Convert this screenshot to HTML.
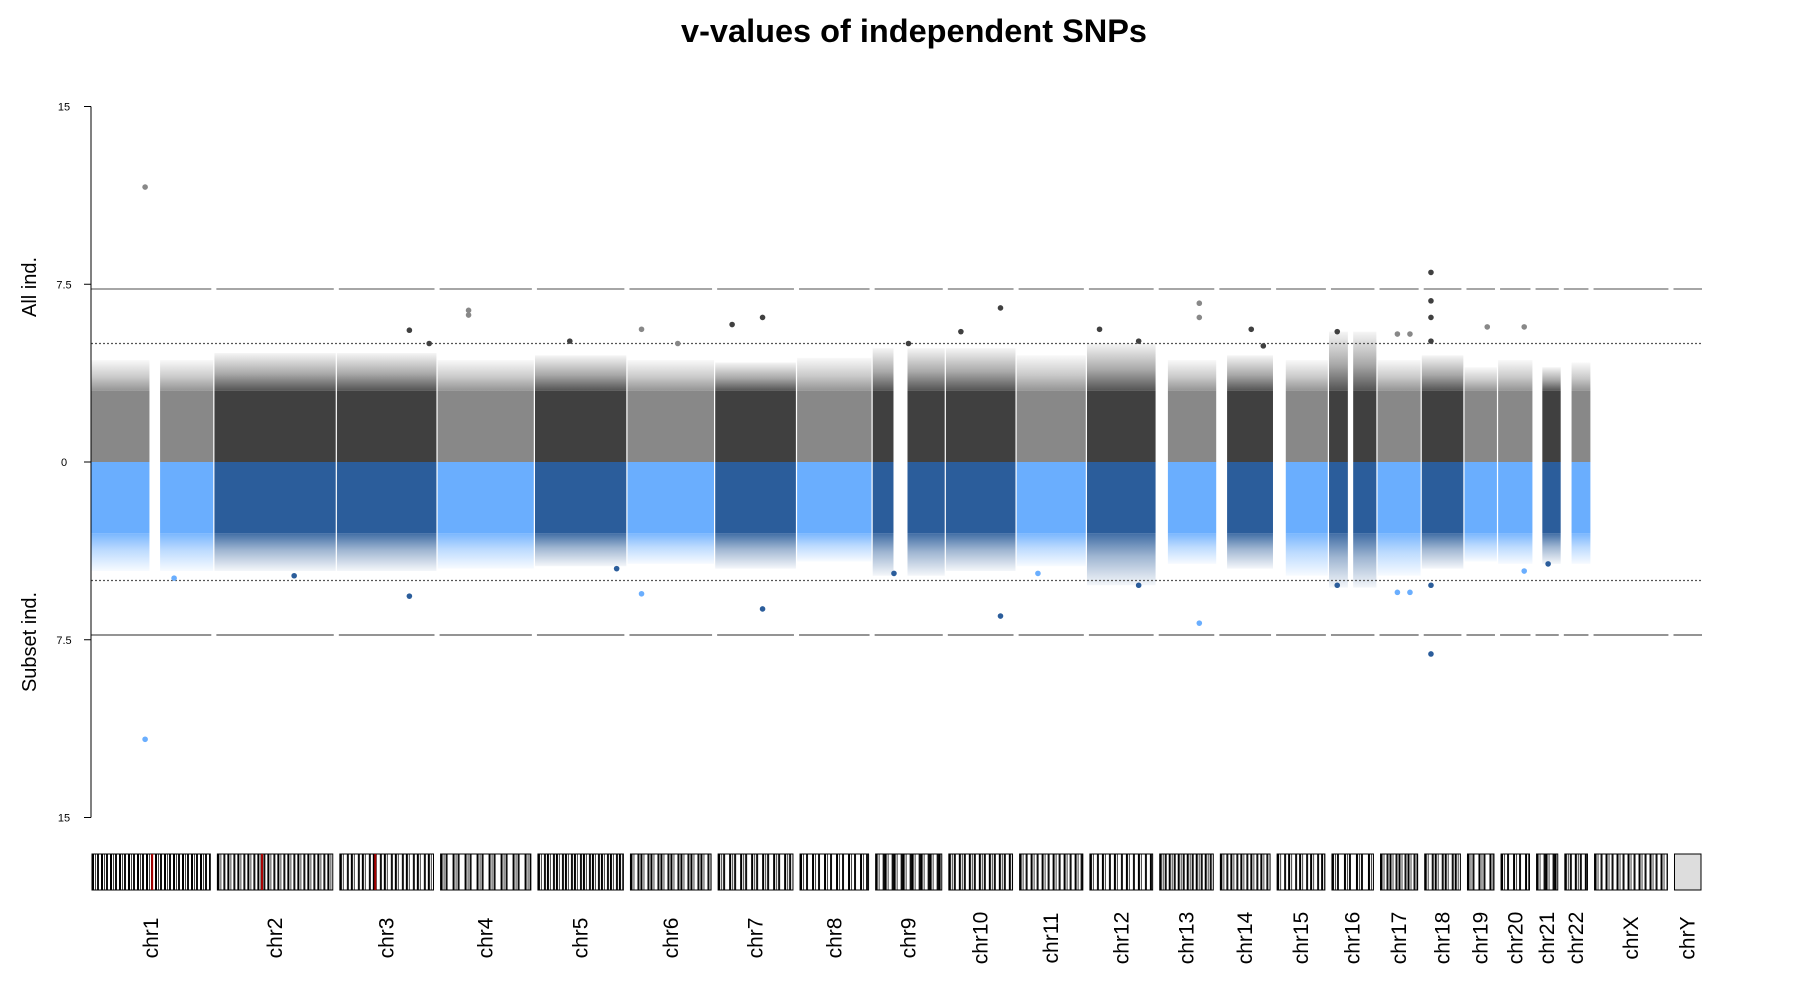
<!DOCTYPE html>
<html><head><meta charset="utf-8"><style>
html,body{margin:0;padding:0;background:#fff;}
svg{display:block;font-family:"Liberation Sans",sans-serif;}
</style></head><body>
<svg id="chart" width="1800" height="1000" viewBox="0 0 1800 1000" xmlns="http://www.w3.org/2000/svg">
<defs></defs>
<text x="914" y="42" text-anchor="middle" font-size="32.5" font-weight="bold">v-values of independent SNPs</text>
<text transform="translate(36,287) rotate(-90)" text-anchor="middle" font-size="20">All ind.</text>
<text transform="translate(36,642) rotate(-90)" text-anchor="middle" font-size="20">Subset ind.</text>
<g id="plot"></g>
</svg>
<script>
const chromNames = ['chr1','chr2','chr3','chr4','chr5','chr6','chr7','chr8','chr9','chr10','chr11','chr12','chr13','chr14','chr15','chr16','chr17','chr18','chr19','chr20','chr21','chr22','chrX','chrY'];
const chromLengths = [249,243,198,191,181,171,159,146,141,136,135,134,115,107,103,90,81,78,59,63,48,51,155,59];
const chromShade = [0,1,1,0,1,0,1,0,1,1,0,1,0,1,0,1,0,1,0,0,1,0];
const dataSegments = [[[0,121],[143,249]],[[0,243]],[[0,198]],[[0,191]],[[0,181]],[[0,171]],[[0,159]],[[0,146]],[[0,39],[68,141]],[[0,136]],[[0,135]],[[0,134]],[[19,115]],[[16,107]],[[20,103]],[[0,35],[46,90]],[[0,81]],[[0,78]],[[0,59]],[[0,63]],[[14,48]],[[16,51]],[],[]];
const bulkTop = [3.0,3.0,3.0,3.0,3.0,3.0,3.0,3.0,3.0,3.0,3.0,3.0,3.0,3.0,3.0,3.0,3.0,3.0,3.0,3.0,3.0,3.0];
const fringeTop = [4.3,4.6,4.6,4.3,4.5,4.3,4.2,4.4,4.8,4.8,4.5,5.0,4.3,4.5,4.3,5.5,4.3,4.5,4.0,4.3,4.0,4.2];
const bulkBottom = [3.0,3.0,3.0,3.0,3.0,3.0,3.0,3.0,3.0,3.0,3.0,3.0,3.0,3.0,3.0,3.0,3.0,3.0,3.0,3.0,3.0,3.0];
const fringeBottom = [4.6,4.6,4.6,4.5,4.4,4.3,4.5,4.2,4.8,4.6,4.4,5.2,4.3,4.5,4.8,5.3,4.8,4.5,4.2,4.3,4.3,4.3];
const topChr = [0,2,2,3,3,4,5,5,6,6,8,9,9,11,11,12,12,13,13,15,16,16,17,17,17,17,18,19];
const topPos = [112,146,187,60,60,68,25,100,31,94,70,27,109,22,103,84,84,66,91,13,37,63,15,15,15,15,43,50];
const topVal = [11.6,5.56,5.0,6.4,6.2,5.1,5.6,5.0,5.8,6.1,5.0,5.5,6.5,5.6,5.1,6.7,6.1,5.6,4.9,5.5,5.4,5.4,8.0,6.8,6.1,5.1,5.7,5.7];
const botChr = [0,0,1,2,4,5,6,8,9,10,11,12,15,16,16,17,17,19,20];
const botPos = [112,172,161,146,165,25,94,40,109,40,103,84,13,37,63,15,15,50,26];
const botVal = [11.7,4.9,4.8,5.66,4.5,5.56,6.2,4.7,6.5,4.7,5.2,6.8,5.2,5.5,5.5,8.1,5.2,4.6,4.3];
const yTickVals = [15,7.5,0,-7.5,-15];
const yTickLabels = ['15','7.5','0','7.5','15'];
const thresholds = [7.3,5];

const NS='http://www.w3.org/2000/svg';
const plot=document.getElementById('plot');
const defs=document.querySelector('defs');
const X0=91,X1=1702,GAP=10.5,PAD=4,Y0=462,YS=23.7;
const total=chromLengths.reduce((a,b)=>a+b,0)+GAP*(chromLengths.length-1);
const offsets=[];let acc=0;chromLengths.forEach(l=>{offsets.push(acc);acc+=l+GAP;});
function xs(c,p){return X0+(offsets[c]+p)/total*(X1-X0);}
function yv(v){return Y0-v*YS;}
function mk(tag,attrs,parent){const e=document.createElementNS(NS,tag);for(const k in attrs)e.setAttribute(k,attrs[k]);(parent||plot).appendChild(e);return e;}
const topCols=['#888888','#404040'],botCols=['#6aaefe','#2b5d9b'];
[...topCols,...botCols].forEach((col,i)=>{
  const up=mk('linearGradient',{id:'fu'+i,x1:0,y1:1,x2:0,y2:0},defs);
  mk('stop',{offset:0,'stop-color':col,'stop-opacity':0.9},up);
  mk('stop',{offset:0.45,'stop-color':col,'stop-opacity':0.45},up);
  mk('stop',{offset:1,'stop-color':col,'stop-opacity':0.05},up);
  const dn=mk('linearGradient',{id:'fd'+i,x1:0,y1:0,x2:0,y2:1},defs);
  mk('stop',{offset:0,'stop-color':col,'stop-opacity':0.9},dn);
  mk('stop',{offset:0.45,'stop-color':col,'stop-opacity':0.45},dn);
  mk('stop',{offset:1,'stop-color':col,'stop-opacity':0.05},dn);
});

chromNames.forEach((n,c)=>{
  dataSegments[c].forEach(s=>{
    const a=s[0]===0&&c>0?-PAD:s[0], b=s[1]===chromLengths[c]?s[1]+PAD:s[1];
    const xa=xs(c,a),w=xs(c,b)-xa,sh=chromShade[c];
    let r=mk('rect',{x:xa,y:yv(bulkTop[c]),width:w,height:bulkTop[c]*YS,fill:topCols[sh]});
    
    r=mk('rect',{x:xa,y:yv(fringeTop[c]),width:w,height:(fringeTop[c]-bulkTop[c])*YS,fill:'url(#fu'+sh+')'});
    
    r=mk('rect',{x:xa,y:Y0,width:w,height:bulkBottom[c]*YS,fill:botCols[sh]});
    
    r=mk('rect',{x:xa,y:Y0+bulkBottom[c]*YS,width:w,height:(fringeBottom[c]-bulkBottom[c])*YS,fill:'url(#fd'+(2+sh)+')'});
    
  });
});
const dl=mk('line',{x1:X0,x2:X1,y1:yv(thresholds[1]),y2:yv(thresholds[1]),stroke:'#555','stroke-width':1.3,'stroke-dasharray':'2,2'});

const dl2=mk('line',{x1:X0,x2:X1,y1:Y0+thresholds[1]*YS,y2:Y0+thresholds[1]*YS,stroke:'#555','stroke-width':1.3,'stroke-dasharray':'2,2'});

chromNames.forEach((n,c)=>{
  let l=mk('line',{x1:xs(c,0),x2:xs(c,chromLengths[c]),y1:yv(thresholds[0]),y2:yv(thresholds[0]),stroke:'#888','stroke-width':1.5});
  
  l=mk('line',{x1:xs(c,0),x2:xs(c,chromLengths[c]),y1:Y0+thresholds[0]*YS,y2:Y0+thresholds[0]*YS,stroke:'#555','stroke-width':1.3});
  
});
topVal.forEach((v,i)=>{const c=topChr[i];
  const p=mk('circle',{cx:xs(c,topPos[i]),cy:yv(v),r:2.8,fill:topCols[chromShade[c]]});
  });
botVal.forEach((v,i)=>{const c=botChr[i];
  const p=mk('circle',{cx:xs(c,botPos[i]),cy:Y0+v*YS,r:2.8,fill:botCols[chromShade[c]]});
  });
const ax=mk('line',{x1:X0,x2:X0,y1:yv(15),y2:yv(-15),stroke:'#000','stroke-width':1});

yTickVals.forEach((v,i)=>{
  const t=mk('line',{x1:X0-7,x2:X0,y1:yv(v),y2:yv(v),stroke:'#000','stroke-width':1});
  
  const tx=mk('text',{x:X0-27,y:yv(v)+4,'text-anchor':'middle','font-size':11});
  tx.textContent=yTickLabels[i];
  
});
chromNames.forEach((n,c)=>{
  const xa=xs(c,0)+1,w=xs(c,chromLengths[c])-xa-1;
  const id='pat'+c;
  const pat=mk('pattern',{id:id,patternUnits:'userSpaceOnUse',width:9+(c%4),height:36,x:xa});
  mk('rect',{width:9+(c%4),height:36,fill:c===23?'#ddd':'#fff'},pat);
  if(c!==23){mk('rect',{x:0,width:2,height:36,fill:'#000'},pat);mk('rect',{x:3,width:1,height:36,fill:'#444'},pat);mk('rect',{x:5+(c%3),width:2,height:36,fill:'#111'},pat);}
  const b=mk('rect',{x:xa,y:854,width:w,height:36,fill:'url(#'+id+')',stroke:'#000','stroke-width':1});
  
  if(c<3){const cm=mk('rect',{x:xs(c,chromLengths[c]*[0.5,0.38,0.37][c]),y:854,width:2,height:36,fill:'#a00'});
    }
  const cx=xs(c,chromLengths[c]/2)+7;
  const t=mk('text',{transform:'translate('+cx+',938) rotate(-90)','text-anchor':'middle','font-size':21});
  t.textContent=n;
  
});
</script>
</body></html>
